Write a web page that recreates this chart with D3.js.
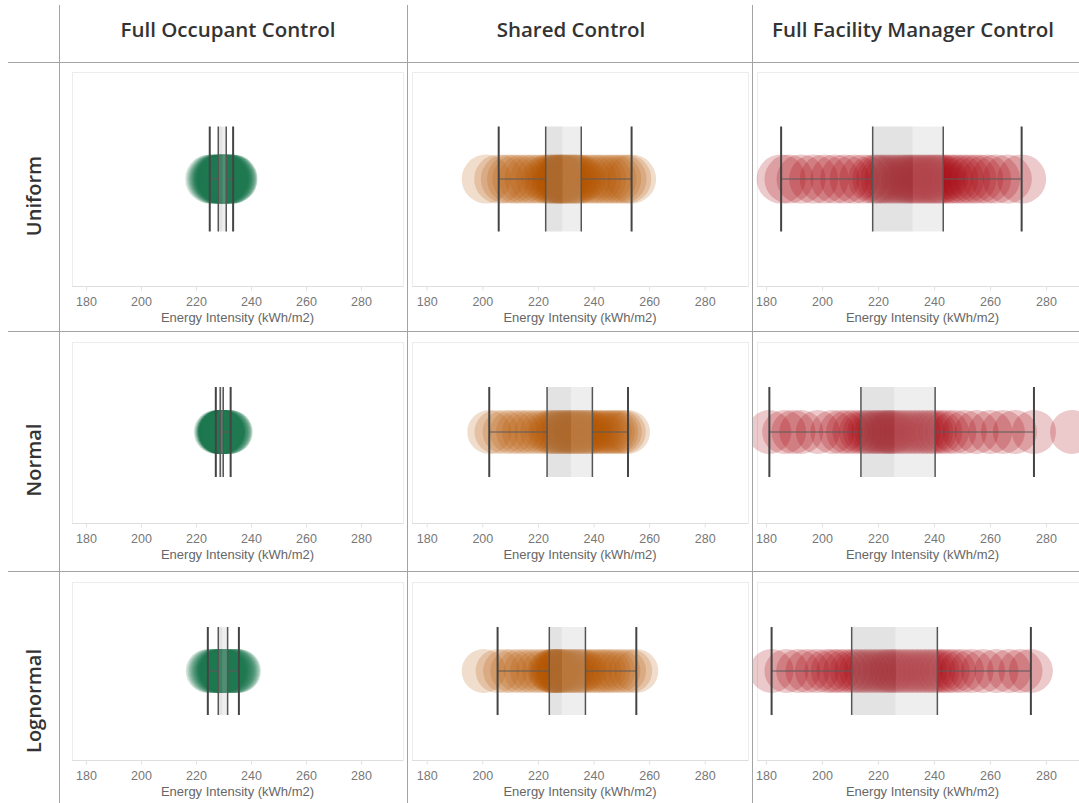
<!DOCTYPE html>
<html>
<head>
<meta charset="utf-8">
<script src="https://cdn.jsdelivr.net/npm/d3@7"></script>
<style>
  html, body { margin: 0; padding: 0; background: #fff; }
  svg { display: block; }
</style>
</head>
<body>
<svg id="chart" width="1079" height="803"></svg>
<script>
// Control strategies (columns) and occupant-preference distributions (rows)
const controls = ["Full Occupant Control", "Shared Control", "Full Facility Manager Control"];
const distributions = ["Uniform", "Normal", "Lognormal"];
const tickValues = [180, 200, 220, 240, 260, 280];
const axisTitle = "Energy Intensity (kWh/m2)";
const controlColors = ["#1d7a50", "#b35500", "#a80a12"];
const controlOpacity = [0.2, 0.2, 0.22];

// Simulated energy intensity of each run (kWh/m2)
const uniformOccupant = [225.0, 225.6, 226.1, 226.5, 226.9, 227.2, 227.5, 227.8, 228.0, 228.1,
  228.3, 228.5, 228.7, 228.9, 229.0, 229.1, 229.3, 229.4, 229.5, 229.6,
  229.7, 229.8, 229.9, 230.0, 230.2, 230.3, 230.4, 230.6, 230.8, 231.0,
  231.2, 231.4, 231.6, 231.9, 232.2, 232.5, 232.8, 233.0, 233.3, 233.5];
const uniformShared = [201.4, 205.9, 208.3, 210.5, 212.4, 214.6, 216.8, 218.7, 220.9, 222.8,
  223.6, 224.5, 225.3, 226.0, 226.7, 227.2, 227.7, 228.1, 228.5, 228.8,
  229.4, 230.0, 230.7, 231.3, 232.0, 232.6, 233.3, 234.0, 234.8, 235.6,
  237.5, 239.4, 241.2, 243.0, 244.9, 246.7, 248.4, 250.3, 252.0, 253.7];
const uniformManager = [185.4, 188.2, 192.5, 197.0, 200.8, 204.6, 208.1, 211.5, 214.9, 218.1,
  219.6, 221.0, 222.5, 224.0, 225.6, 227.1, 228.6, 230.0, 231.2, 232.4,
  233.5, 234.6, 235.7, 236.8, 237.9, 239.0, 240.1, 241.2, 242.3, 243.3,
  245.2, 247.0, 249.1, 251.3, 253.6, 256.0, 258.8, 262.0, 266.2, 271.3];
const normalOccupant = [227.2, 227.6, 227.9, 228.1, 228.3, 228.4, 228.5, 228.6, 228.7, 228.8,
  228.85, 228.9, 228.95, 229.0, 229.05, 229.1, 229.15, 229.2, 229.25, 229.3,
  229.35, 229.4, 229.45, 229.5, 229.55, 229.6, 229.7, 229.75, 229.8, 229.9,
  230.1, 230.3, 230.6, 230.9, 231.2, 231.5, 231.8, 232.1, 232.4, 232.6];
const normalShared = [202.5, 205.1, 208.0, 210.6, 212.9, 215.0, 217.2, 219.4, 221.5, 223.3,
  224.4, 225.3, 226.2, 227.1, 228.0, 228.8, 229.6, 230.4, 231.2, 231.9,
  232.7, 233.4, 234.1, 234.8, 235.6, 236.4, 237.2, 238.0, 238.8, 239.6,
  240.8, 242.0, 243.2, 244.5, 245.8, 247.0, 248.2, 249.5, 250.9, 252.4];
const normalManager = [181.2, 186.5, 189.8, 192.6, 198.5, 203.7, 206.8, 209.3, 211.6, 213.9,
  215.4, 216.9, 218.2, 219.5, 220.7, 221.9, 223.0, 224.0, 224.9, 225.8,
  227.2, 228.6, 230.1, 231.6, 233.1, 234.6, 236.1, 237.6, 239.0, 240.4,
  242.3, 244.6, 247.3, 251.0, 255.2, 260.1, 264.6, 268.9, 275.7, 289.3];
const lognormalOccupant = [224.3, 224.9, 225.5, 226.0, 226.5, 226.9, 227.3, 227.6, 227.9, 228.1,
  228.3, 228.5, 228.7, 228.9, 229.0, 229.1, 229.2, 229.3, 229.4, 229.5,
  229.6, 229.8, 230.0, 230.2, 230.4, 230.6, 230.8, 231.0, 231.2, 231.5,
  231.9, 232.3, 232.7, 233.1, 233.5, 233.9, 234.3, 234.8, 235.2, 235.6];
const lognormalShared = [200.5, 205.5, 208.2, 210.8, 213.3, 215.6, 217.9, 220.1, 222.2, 224.1,
  224.6, 225.1, 225.6, 226.0, 226.5, 226.9, 227.3, 227.7, 228.2, 228.6,
  229.4, 230.2, 231.0, 231.8, 232.6, 233.4, 234.3, 235.2, 236.1, 237.1,
  238.8, 240.5, 242.1, 243.7, 245.4, 247.1, 249.0, 251.0, 253.2, 255.4];
const lognormalManager = [182.0, 187.3, 191.5, 194.8, 198.2, 201.6, 203.9, 205.9, 208.3, 210.6,
  212.3, 214.0, 215.7, 217.4, 219.1, 220.8, 222.4, 223.9, 225.1, 226.3,
  227.8, 229.3, 230.8, 232.3, 233.8, 235.3, 236.8, 238.3, 239.8, 241.2,
  243.0, 244.9, 247.2, 250.0, 253.4, 257.5, 262.3, 266.8, 270.9, 274.6];

// Box-plot summaries: [lower whisker, Q1, median, Q3, upper whisker]
const uniformBoxes = [[225.0, 228.1, 229.6, 231.0, 233.5], [205.9, 222.8, 228.8, 235.6, 253.7], [185.4, 218.1, 232.4, 243.3, 271.3]];
const normalBoxes = [[227.2, 228.8, 229.3, 229.9, 232.6], [202.5, 223.3, 231.9, 239.6, 252.4], [181.2, 213.9, 225.8, 240.4, 275.7]];
const lognormalBoxes = [[224.3, 228.1, 229.5, 231.5, 235.6], [205.5, 224.1, 228.6, 237.1, 255.4], [182.0, 210.6, 226.3, 241.2, 274.6]];

const runs = [
  [uniformOccupant, uniformShared, uniformManager],
  [normalOccupant, normalShared, normalManager],
  [lognormalOccupant, lognormalShared, lognormalManager]
];
const boxes = [uniformBoxes, normalBoxes, lognormalBoxes];

// ---- layout ----
const svg = d3.select("#chart");
const frameColor = "#a3a3a3";
const headerFont = "'Open Sans', Lato, sans-serif";
const axisFont = "'Liberation Sans', Arial, sans-serif";
const colLayout = [
  { left: 72.25, k: 2.75, panelX0: 72, panelX1: 403, headerX: 228 },
  { left: 412.8, k: 2.78, panelX0: 412, panelX1: 748, headerX: 571 },
  { left: 752, k: 2.8, panelX0: 757, panelX1: 1088, headerX: 913 }
];
const rowLayout = [
  { top: 72, axisY: 286, cy: 179, half: 52.5, r: 24.5, labelY: 196 },
  { top: 342, axisY: 523, cy: 432, half: 45, r: 22, labelY: 460 },
  { top: 582, axisY: 760, cy: 671, half: 44, r: 22, labelY: 701 }
];
const domain = [175, 295];

// frame lines
const frame = svg.append("g").attr("stroke", frameColor).attr("stroke-width", 1).attr("shape-rendering", "crispEdges");
[59, 407, 752].forEach(x => frame.append("line").attr("x1", x + 0.5).attr("x2", x + 0.5).attr("y1", 5).attr("y2", 803));
[62, 331, 571].forEach(y => frame.append("line").attr("x1", 8).attr("x2", 1079).attr("y1", y + 0.5).attr("y2", y + 0.5));

// column headers
svg.append("g").selectAll("text").data(controls).join("text")
  .attr("x", (d, i) => colLayout[i].headerX)
  .attr("y", 37)
  .attr("text-anchor", "middle")
  .attr("font-family", headerFont)
  .attr("font-weight", 600)
  .attr("font-size", 20.5)
  .attr("fill", "#333")
  .text(d => d);

// row headers
svg.append("g").selectAll("text").data(distributions).join("text")
  .attr("transform", (d, i) => `translate(41,${rowLayout[i].labelY}) rotate(-90)`)
  .attr("text-anchor", "middle")
  .attr("font-family", headerFont)
  .attr("font-weight", 600)
  .attr("font-size", 20)
  .attr("fill", "#333")
  .text(d => d);

// clip each column to its own cell
const defs = svg.append("defs");
colLayout.forEach((c, ci) => {
  defs.append("clipPath").attr("id", "clip" + ci)
    .append("rect").attr("x", [60, 408, 753][ci]).attr("y", 0)
    .attr("width", [347, 344, 330][ci]).attr("height", 803);
});

rowLayout.forEach((row, ri) => {
  colLayout.forEach((col, ci) => {
    const x = d3.scaleLinear().domain(domain).range([col.left, col.left + (domain[1] - domain[0]) * col.k]);
    const g = svg.append("g").attr("clip-path", `url(#clip${ci})`);

    // panel border
    g.append("rect")
      .attr("x", col.panelX0 + 0.5).attr("y", row.top + 0.5)
      .attr("width", col.panelX1 - col.panelX0).attr("height", row.axisY - row.top)
      .attr("fill", "none").attr("stroke", "#ececec");

    // axis
    const axis = d3.axisBottom(x).tickValues(tickValues).tickSize(4).tickPadding(7).tickFormat(d3.format("d"));
    const ag = g.append("g").attr("transform", `translate(0,${row.axisY + 0.5})`).call(axis);
    ag.select(".domain").attr("stroke", "#dedede").attr("d", `M${col.panelX0},0H${col.panelX1}`);
    ag.selectAll(".tick line").attr("stroke", "#e2e2e2");
    ag.selectAll(".tick text")
      .attr("font-family", axisFont)
      .attr("font-size", 12.5).attr("fill", "#777");

    g.append("text")
      .attr("x", (col.panelX0 + col.panelX1) / 2).attr("y", row.axisY + 36)
      .attr("text-anchor", "middle")
      .attr("font-family", axisFont)
      .attr("font-size", 13).attr("fill", "#666")
      .text(axisTitle);

    // run results
    g.append("g").selectAll("circle").data(runs[ri][ci]).join("circle")
      .attr("cx", d => x(d)).attr("cy", row.cy).attr("r", row.r)
      .attr("fill", controlColors[ci]).attr("fill-opacity", controlOpacity[ci]);

    // box plot
    const [wLo, q1, med, q3, wHi] = boxes[ri][ci];
    const y0 = row.cy - row.half, y1 = row.cy + row.half;
    g.append("rect").attr("x", x(q1)).attr("y", y0).attr("width", x(med) - x(q1)).attr("height", y1 - y0)
      .attr("fill", "#9a9a9a").attr("fill-opacity", 0.28);
    g.append("rect").attr("x", x(med)).attr("y", y0).attr("width", x(q3) - x(med)).attr("height", y1 - y0)
      .attr("fill", "#c8c8c8").attr("fill-opacity", 0.3);
    g.append("line").attr("x1", x(wLo)).attr("x2", x(q1)).attr("y1", row.cy).attr("y2", row.cy)
      .attr("stroke", "#5a5a5a").attr("stroke-width", 1.2);
    g.append("line").attr("x1", x(q3)).attr("x2", x(wHi)).attr("y1", row.cy).attr("y2", row.cy)
      .attr("stroke", "#5a5a5a").attr("stroke-width", 1.2);
    [q1, q3].forEach(v => g.append("line").attr("x1", x(v)).attr("x2", x(v)).attr("y1", y0).attr("y2", y1)
      .attr("stroke", "#555").attr("stroke-width", 1.5));
    [wLo, wHi].forEach(v => g.append("line").attr("x1", x(v)).attr("x2", x(v)).attr("y1", y0).attr("y2", y1)
      .attr("stroke", "#444").attr("stroke-width", 2));
  });
});
</script>
</body>
</html>
